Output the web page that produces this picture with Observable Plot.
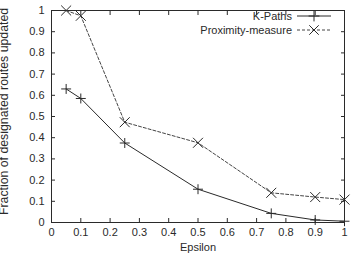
<!DOCTYPE html>
<html>
<head>
<meta charset="utf-8">
<script src="https://cdn.jsdelivr.net/npm/d3@7"></script>
<script src="https://cdn.jsdelivr.net/npm/@observablehq/plot@0.6"></script>
<style>
  html, body { margin: 0; padding: 0; background: #fff; }
  #chart svg { display: block; }
</style>
</head>
<body>
<div id="chart"></div>
<script>
// Epsilon values sampled
const epsilon = [0.05, 0.1, 0.25, 0.5, 0.75, 0.9, 1.0];
// Fraction of designated routes updated, per method
const kPaths = [0.63, 0.585, 0.375, 0.157, 0.043, 0.012, 0.006];
const proximity = [1.0, 0.975, 0.473, 0.376, 0.14, 0.12, 0.108];
const seriesNames = ["K-Paths", "Proximity-measure"];
const ticks = [0, 0.1, 0.2, 0.3, 0.4, 0.5, 0.6, 0.7, 0.8, 0.9, 1];

const kData = epsilon.map((e, i) => ({x: e, y: kPaths[i]}));
const pData = epsilon.map((e, i) => ({x: e, y: proximity[i]}));

const font = "'Liberation Sans', Arial, Helvetica, sans-serif";
const ink = "#2a2a2a";
const fmt = d => String(d);
const blank = () => "";

const plot = Plot.plot({
  width: 353,
  height: 262,
  marginLeft: 51,
  marginRight: 9,
  marginTop: 10,
  marginBottom: 40,
  style: {fontFamily: font, fontSize: "11px", color: ink, background: "#fff", overflow: "visible"},
  x: {domain: [0, 1], ticks},
  y: {domain: [0, 1], ticks},
  marks: [
    Plot.frame({stroke: ink, strokeWidth: 1}),
    Plot.axisX({ticks, tickSize: -4, tickPadding: 10, tickFormat: fmt, label: null, stroke: ink, fill: ink}),
    Plot.axisX({ticks, anchor: "top", tickSize: -4, tickFormat: blank, label: null, stroke: ink}),
    Plot.axisY({ticks, tickSize: -4, tickPadding: 11, tickFormat: fmt, label: null, stroke: ink, fill: ink}),
    Plot.axisY({ticks, anchor: "right", tickSize: -4, tickFormat: blank, label: null, stroke: ink}),
    Plot.text(["Epsilon"], {frameAnchor: "bottom", dy: 28, fill: ink, fontSize: 11}),
    Plot.text(["Fraction of designated routes updated"], {
      frameAnchor: "left", textAnchor: "middle", rotate: -90, dx: -47, dy: -5,
      fill: ink, fontSize: 12.3
    }),
    Plot.line(kData, {x: "x", y: "y", stroke: ink, strokeWidth: 1}),
    Plot.dot(kData, {x: "x", y: "y", symbol: "plus", r: 3.3, stroke: ink, strokeWidth: 1}),
    Plot.line(pData, {x: "x", y: "y", stroke: "#444", strokeWidth: 1, strokeDasharray: "3,2"}),
    Plot.dot(pData, {x: "x", y: "y", symbol: "times", r: 4.6, stroke: ink, strokeWidth: 1})
  ]
});

// Key in the top-right corner of the plot area
const svg = d3.select(plot);
const key = svg.append("g")
  .attr("font-family", font)
  .attr("font-size", 11)
  .attr("fill", ink);
const rows = [
  {name: seriesNames[0], dash: null, symbol: d3.symbolPlus, size: 40},
  {name: seriesNames[1], dash: "3,2", symbol: d3.symbolTimes, size: 60}
];
rows.forEach((r, i) => {
  const cy = 16 + i * 14;
  key.append("text")
    .attr("x", 292).attr("y", cy)
    .attr("dy", "0.35em")
    .attr("text-anchor", "end")
    .text(r.name);
  key.append("line")
    .attr("x1", 297).attr("x2", 331)
    .attr("y1", cy).attr("y2", cy)
    .attr("stroke", i ? "#444" : ink)
    .attr("stroke-dasharray", r.dash);
  key.append("path")
    .attr("transform", `translate(314,${cy})`)
    .attr("d", d3.symbol(r.symbol, r.size)())
    .attr("fill", "none")
    .attr("stroke", ink);
});

document.getElementById("chart").appendChild(plot);
</script>
</body>
</html>
